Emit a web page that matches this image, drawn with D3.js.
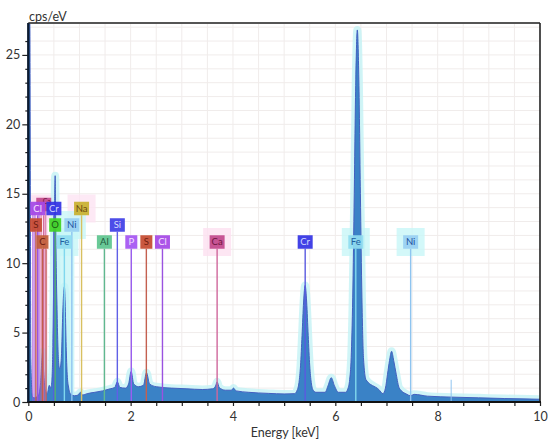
<!DOCTYPE html>
<html><head><meta charset="utf-8">
<script src="https://cdn.jsdelivr.net/npm/d3@7"></script>
<style>
body{margin:0;background:#fff}
svg text{font-family:Lato,"Open Sans",sans-serif}
</style></head>
<body><svg id="chart" width="550" height="448"></svg>
<script>
// ---- data ----
const energyKeV = [0,0.005,0.03,0.05,0.08,0.12,0.2,0.24,0.265,0.28,0.3,0.33,0.37,0.41,0.44,0.46,0.48,0.5,0.515,0.525,0.535,0.55,0.56,0.575,0.59,0.61,0.63,0.65,0.67,0.69,0.705,0.72,0.74,0.76,0.79,0.83,0.9,0.97,1.02,1.06,1.15,1.3,1.45,1.6,1.69,1.74,1.79,1.9,1.96,2.01,2.06,2.15,2.25,2.31,2.37,2.5,2.8,3.1,3.4,3.6,3.66,3.69,3.73,3.85,3.97,4.01,4.06,4.3,4.7,5.0,5.2,5.26,5.29,5.32,5.35,5.38,5.41,5.44,5.47,5.50,5.53,5.56,5.62,5.8,5.86,5.92,5.98,6.06,6.2,6.25,6.28,6.31,6.34,6.37,6.40,6.43,6.46,6.49,6.52,6.55,6.6,6.85,6.93,6.98,7.02,7.06,7.10,7.14,7.19,7.25,7.4,7.47,7.54,7.8,8.3,8.8,9.3,10];
const cpsPerEV = [0,27.3,27.3,3,0.4,0.3,0.5,1.4,3.0,3.6,2.2,0.9,0.6,1.2,1.0,1.5,4,10,14.5,16.3,13,8.8,7,4.5,3,2.4,2.6,3.5,6,7.8,8.3,7.2,4,2,1.0,0.55,0.45,0.5,0.7,0.5,0.6,0.7,0.8,0.95,1.05,1.45,1.05,1.0,1.3,2.2,1.3,1.1,1.2,2.1,1.3,1.1,1.0,0.95,0.9,0.95,1.15,1.45,1.05,0.85,0.85,1.0,0.8,0.7,0.62,0.58,0.6,0.9,1.4,2.6,4.8,7.2,8.4,7.2,4.8,2.6,1.4,0.9,0.7,0.7,1.2,1.75,1.2,0.7,0.7,1.0,1.6,3.2,7.5,15,23.2,26.8,23.2,15,7.5,3.2,1.6,0.9,0.6,1.0,2.0,3.0,3.65,3.0,2.0,1.0,0.55,0.45,0.55,0.42,0.35,0.3,0.25,0.2,0.15];

const labelNames  = ["Ca","Cl","Cr","Na","S","O","Ni","Si","C","Fe","Al","P","S","Cl","Ca","Cr","Fe","Ni"];
const labelEnergy = [0.302,0.183,0.50,1.041,0.149,0.525,0.851,1.740,0.277,0.705,1.487,2.013,2.307,2.622,3.690,5.411,6.400,7.472];

const minorLineNames  = ["Cl","Cl","Cl","Ca","Ca","S","Ni"];
const minorLineEnergy = [0.09,0.13,0.21,0.25,0.34,0.35,8.265];
const minorLineHeight = [14,14,14,14,14,11,1.6];

const xTickLabels = [0,2,4,6,8,10];
const yTickLabels = [0,5,10,15,20,25];

// ---- styles / layout ----
const elementStyle = {
  "Cl":{fill:"#a446e6",text:"#f6e2ff",line:"#9a52e0"},
  "Ca":{fill:"#c2488c",text:"#6e1440",line:"#d0689c",halo:"#fde0f0"},
  "Cr":{fill:"#3232e4",text:"#d0d6ff",line:"#5a5ae0"},
  "Na":{fill:"#c9b02e",text:"#6a4a10",line:"#d8c060",halo:"#fde4f2"},
  "S": {fill:"#c44a30",text:"#6e1c10",line:"#c46050"},
  "O": {fill:"#40d222",text:"#1a5a10",line:"#50b070"},
  "Ni":{fill:"#98cff2",text:"#2050a0",line:"#8ec4f0",halo:"#c8f6f8"},
  "Si":{fill:"#3e3ee6",text:"#d6dcff",line:"#6060e6"},
  "C": {fill:"#c25e3a",text:"#6e1c10",line:"#c0604a"},
  "Fe":{fill:"#90dcf0",text:"#2060a0",line:"#80d8ee",halo:"#c8f6f8"},
  "Al":{fill:"#5cc48e",text:"#1f5a3e",line:"#60b890"},
  "P": {fill:"#a454f2",text:"#f4e2ff",line:"#9a5ef0"}
};
const labelRow = [0,0,0,0,1,1,1,1,2,2,2,2,2,2,2,2,2,2];

const W = 550, H = 448;
const m = {left:28.3, right:10, top:23, bottom:46};
const svg = d3.select("#chart");
const x = d3.scaleLinear().domain([0,10]).range([m.left, W - m.right]);
const y = d3.scaleLinear().domain([0,27.3]).range([H - m.bottom, m.top]);

svg.append("defs").append("clipPath").attr("id","plot")
  .append("rect").attr("x",x(0)).attr("y",y(27.3)).attr("width",x(10)-x(0)).attr("height",y(0)-y(27.3));

// grid
const grid = svg.append("g").attr("stroke","#f0eceb").attr("stroke-width",1);
grid.selectAll("line.v").data(d3.range(0.5,10,0.5)).join("line")
  .attr("x1",d=>x(d)).attr("x2",d=>x(d)).attr("y1",y(27.3)).attr("y2",y(0));
grid.selectAll("line.h").data(d3.range(1,28,1)).join("line")
  .attr("x1",x(0)).attr("x2",x(10)).attr("y1",d=>y(d)).attr("y2",d=>y(d));

const plot = svg.append("g").attr("clip-path","url(#plot)");

const pts = energyKeV.map((e,i)=>[e,cpsPerEV[i]]);
const glowPts = pts.filter(d=>d[0] > 0.1);
const area = d3.area().x(d=>x(d[0])).y0(y(0)).y1(d=>y(d[1])).curve(d3.curveMonotoneX);
const line = d3.line().x(d=>x(d[0])).y(d=>y(d[1])).curve(d3.curveMonotoneX);

const boxH = 13.5, rowY = [208.5, 225, 242];
// soft halos (pink band over the low-energy cluster, cyan behind Fe L / Ni L)
plot.append("rect").attr("x",x(0.07)).attr("y",196).attr("width",x(0.38)-x(0.07)).attr("height",y(0)-196)
  .attr("fill","#fde4f2");
plot.append("rect").attr("x",x(0.47)).attr("y",232).attr("width",x(0.9)-x(0.47)).attr("height",y(0)-232)
  .attr("fill","#d2f7f8");
labelNames.forEach((n,i)=>{
  const st = elementStyle[n];
  if(!st.halo) return;
  const cx = x(labelEnergy[i]), cy = rowY[labelRow[i]];
  plot.append("rect").attr("x",cx-14).attr("y",cy-14).attr("width",28).attr("height",28)
    .attr("fill",st.halo).attr("opacity",0.8);
});
// cyan glow around the spectrum
plot.append("path").datum(glowPts).attr("d",line).attr("fill","none")
  .attr("stroke","#c4f3f5").attr("stroke-width",8).attr("stroke-linejoin","round").attr("opacity",0.8);
plot.append("path").datum(pts).attr("d",area).attr("fill","#3a82c6");
plot.append("path").datum(pts).attr("d",line).attr("fill","none")
  .attr("stroke","#4460c0").attr("stroke-width",1);

// marker lines
minorLineNames.forEach((n,i)=>{
  plot.append("line").attr("x1",x(minorLineEnergy[i])).attr("x2",x(minorLineEnergy[i]))
    .attr("y1",y(minorLineHeight[i])).attr("y2",y(0))
    .attr("stroke",elementStyle[n].line).attr("stroke-width",1.3).attr("opacity",0.75);
});
labelNames.forEach((n,i)=>{
  const cx = x(labelEnergy[i]), cy = rowY[labelRow[i]];
  plot.append("line").attr("x1",cx).attr("x2",cx).attr("y1",cy+boxH/2).attr("y2",y(0))
    .attr("stroke",elementStyle[n].line).attr("stroke-width",1.4);
});
// label boxes
const lab = svg.append("g");
labelNames.forEach((n,i)=>{
  const st = elementStyle[n];
  const cx = x(labelEnergy[i]), cy = rowY[labelRow[i]] - (i === 0 ? 4 : 0);
  const w = n.length > 1 ? 15 : 12;
  lab.append("rect").attr("x",cx-w/2).attr("y",cy-boxH/2).attr("width",w).attr("height",boxH)
    .attr("fill",st.fill).attr("opacity",0.92);
  if(i === 0){
    lab.append("text").attr("x",cx+3).attr("y",cy-0.5).attr("text-anchor","middle")
      .attr("font-size",7).attr("fill",st.text).text(n);
  } else {
    lab.append("text").attr("x",cx).attr("y",cy+3.3).attr("text-anchor","middle")
      .attr("font-size",9.5).attr("fill",st.text).text(n);
  }
});

// axes
const xAxis = d3.axisBottom(x).tickValues(d3.range(0,10.01,0.5)).tickSize(4)
  .tickFormat(d=> xTickLabels.includes(d) ? d : "");
const gx = svg.append("g").attr("transform",`translate(0,${y(0)})`).call(xAxis);
gx.select(".domain").remove();
gx.selectAll("line").attr("stroke","#222").attr("stroke-width",1.2);
gx.selectAll("text").attr("font-size",12.5).attr("fill","#333").attr("dy","0.95em");

const yAxis = d3.axisLeft(y).tickValues(d3.range(0,27,1)).tickSize(3)
  .tickFormat(d=> yTickLabels.includes(d) ? d : "");
const gy = svg.append("g").attr("transform",`translate(${x(0)},0)`).call(yAxis);
gy.select(".domain").remove();
gy.selectAll(".tick line").attr("stroke","#222").attr("stroke-width",1.2)
  .attr("x2",d=> yTickLabels.includes(d) ? -6 : -3);
gy.selectAll("text").attr("font-size",12.5).attr("fill","#333").attr("x",-8);

// frame
svg.append("line").attr("x1",x(0)).attr("x2",x(10)).attr("y1",y(27.3)).attr("y2",y(27.3))
  .attr("stroke","#555").attr("stroke-width",2.2);
svg.append("line").attr("x1",x(10)).attr("x2",x(10)).attr("y1",y(27.3)).attr("y2",y(0))
  .attr("stroke","#222").attr("stroke-width",1.6);
svg.append("line").attr("x1",x(0)-1).attr("x2",x(10)+1).attr("y1",y(0)).attr("y2",y(0))
  .attr("stroke","#111").attr("stroke-width",2.2);
svg.append("line").attr("x1",x(0)).attr("x2",x(0)).attr("y1",y(27.3)).attr("y2",y(0))
  .attr("stroke","#0b1a30").attr("stroke-width",2.4);

// titles
svg.append("text").attr("x",29).attr("y",20.5).attr("font-size",12.5).attr("fill","#333").text("cps/eV");
svg.append("text").attr("x",285).attr("y",436.5).attr("text-anchor","middle")
  .attr("font-size",12.5).attr("fill","#333").text("Energy [keV]");
</script></body></html>
